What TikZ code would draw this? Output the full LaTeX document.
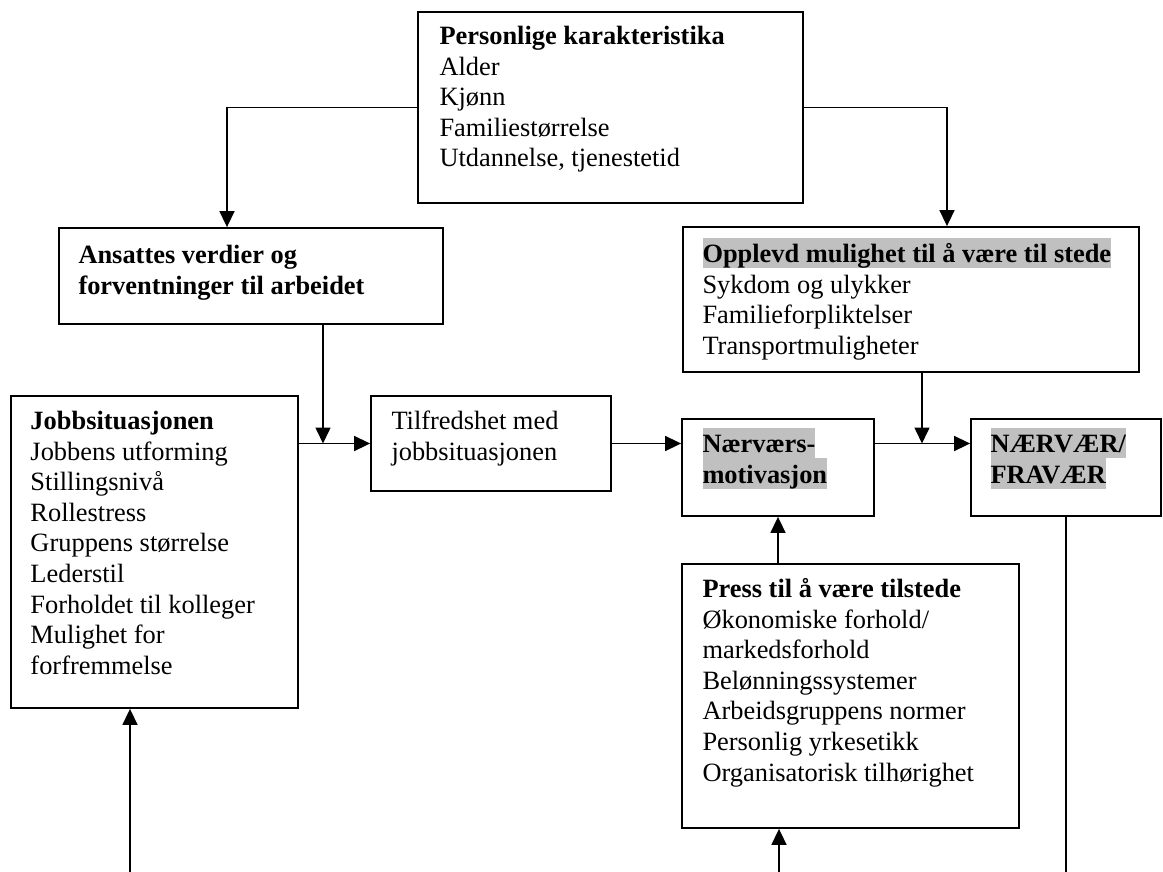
\documentclass[tikz,border=0pt]{standalone}
\usepackage{fontspec}
\setmainfont{Liberation Serif}
\usetikzlibrary{positioning,arrows.meta}
\definecolor{hlgray}{RGB}{192,192,192}
\newcommand{\ls}{\rule[-2.8pt]{0pt}{15.3pt}}
\newcommand{\hl}[1]{{\setlength{\fboxsep}{0pt}\colorbox{hlgray}{\ls#1}}}
\tikzset{
	box/.style={draw, line width=0.9pt, inner sep=0pt},
	txt/.style={inner sep=0pt, align=left, font=\fontsize{13.2}{15.3}\selectfont},
	arr/.style={line width=0.8pt, -{Triangle[length=8pt,width=7.5pt]}}
}
\begin{document}
\begin{tikzpicture}[x=0.5pt, y=-0.5pt]
				\useasboundingbox (0,0) rectangle (1163,872);

				% Personlige karakteristika
				\node[box, minimum width=192.5pt, minimum height=95.5pt] (pers) at (610.5,107.5) {};
				\node[txt, below right=4pt and 11pt of pers.north west] (perstxt) {\ls\textbf{Personlige karakteristika}\\Alder\\Kjønn\\Familiestørrelse\\Utdannelse, tjenestetid};

				% Ansattes verdier
				\node[box, minimum width=192pt, minimum height=48pt] (ans) at (251,276) {};
				\node[txt, below right=5.5pt and 10pt of ans.north west] (anstxt) {\ls\textbf{Ansattes verdier og}\\\textbf{forventninger til arbeidet}};

				% Opplevd mulighet
				\node[box, minimum width=228pt, minimum height=72.5pt] (opp) at (911,299.5) {};
				\node[txt, below right=5.5pt and 10pt of opp.north west] (opptxt) {\hl{\textbf{Opplevd mulighet til å være til stede}}\\Sykdom og ulykker\\Familieforpliktelser\\Transportmuligheter};

				% Jobbsituasjonen
				\node[box, minimum width=143.5pt, minimum height=156pt] (jobb) at (154.5,552) {};
				\node[txt, below right=4.5pt and 10pt of jobb.north west] (jobbtxt) {\ls\textbf{Jobbsituasjonen}\\Jobbens utforming\\Stillingsnivå\\Rollestress\\Gruppens størrelse\\Lederstil\\Forholdet til kolleger\\Mulighet for\\forfremmelse};

				% Tilfredshet
				\node[box, minimum width=120pt, minimum height=47.5pt] (tilf) at (491,443.5) {};
				\node[txt, below right=4.5pt and 10.5pt of tilf.north west] (tilftxt) {\ls Tilfredshet med\\jobbsituasjonen};

				% Naerversmotivasjon
				\node[box, minimum width=96pt, minimum height=48.5pt] (naerv) at (778,467.5) {};
				\node[txt, below right=4.5pt and 10.5pt of naerv.north west] (naervtxt) {\hl{\textbf{Nærværs-}}\\\hl{\textbf{motivasjon}}};

				% Naervaer / fravaer
				\node[box, minimum width=95pt, minimum height=48.5pt] (fra) at (1066,467.5) {};
				\node[txt, below right=4.5pt and 10pt of fra.north west] (fratxt) {\hl{\textbf{NÆRVÆR/}}\\\hl{\textbf{FRAVÆR}}};

				% Press til aa vaere tilstede
				\node[box, minimum width=168.5pt, minimum height=132pt] (press) at (850.5,696) {};
				\node[txt, below right=4.5pt and 10.5pt of press.north west] (presstxt) {\ls\textbf{Press til å være tilstede}\\Økonomiske forhold/\\markedsforhold\\Belønningssystemer\\Arbeidsgruppens normer\\Personlig yrkesetikk\\Organisatorisk tilhørighet};

				% connectors
				\coordinate (bjobb) at (130,872);
				\coordinate (bpress) at (779,872);
				\coordinate (bfra) at (1066,872);
				\draw[arr] (pers.west) -| ([xshift=-12pt]ans.north);
				\draw[arr] (pers.east) -| ([xshift=18pt]opp.north);
				\draw[arr] (jobb.east |- tilf.west) -- (tilf.west);
				\draw[arr] ([xshift=36pt]ans.south) -- ([xshift=36pt]ans.south |- tilf.west);
				\draw[arr] (tilf.east) -- (tilf.east -| naerv.west);
				\draw[arr] (naerv.east |- tilf.east) -- (fra.west |- tilf.east);
				\draw[arr] ([xshift=5.5pt]opp.south) -- ([xshift=5.5pt]opp.south |- tilf.east);
				\draw[arr] (naerv.south |- press.north) -- (naerv.south);
				\draw[arr] (bjobb) -- (bjobb |- jobb.south);
				\draw[arr] (bpress) -- (bpress |- press.south);
				\draw[line width=0.8pt] (fra.south) -- (bfra);
			\end{tikzpicture}
\end{document}
